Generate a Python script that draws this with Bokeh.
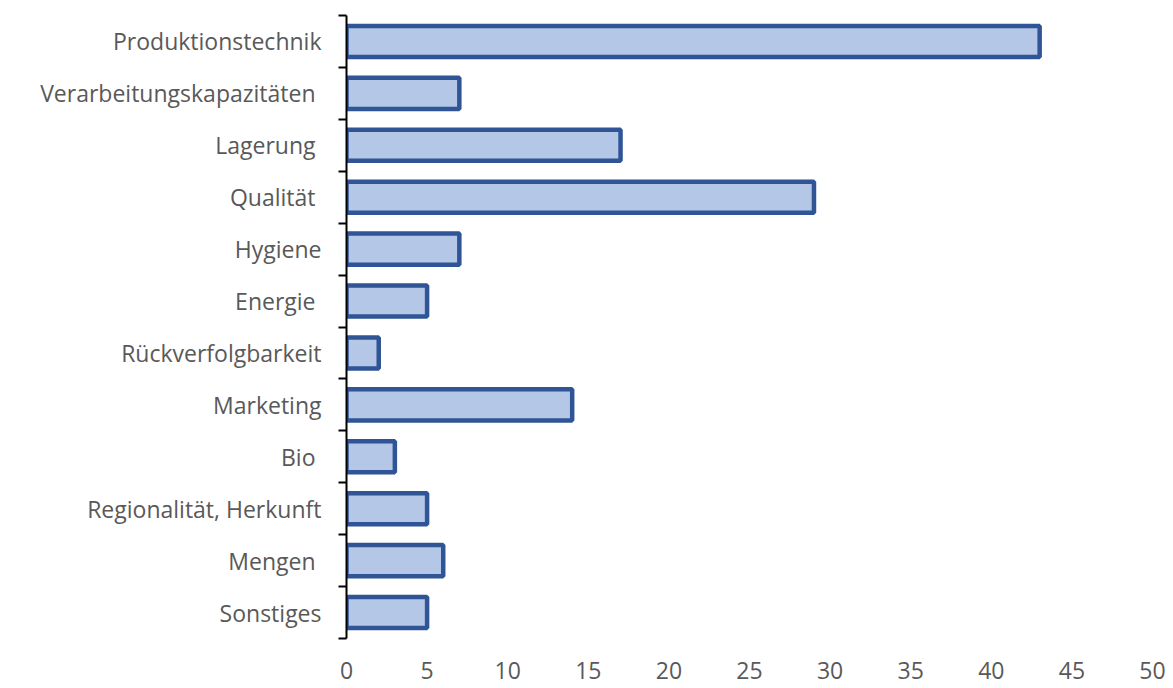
from bokeh.plotting import figure
from bokeh.models import Range1d, FixedTicker, ColumnDataSource
from bokeh.embed import file_html
from bokeh.resources import INLINE

categories = ["Produktionstechnik", "Verarbeitungskapazitäten ", "Lagerung ", "Qualität ",
              "Hygiene", "Energie ", "Rückverfolgbarkeit", "Marketing", "Bio ",
              "Regionalität, Herkunft", "Mengen ", "Sonstiges"]
values = [43, 7, 17, 29, 7, 5, 2, 14, 3, 5, 6, 5]
x_ticks = [0, 5, 10, 15, 20, 25, 30, 35, 40, 45, 50]

n = len(categories)
centers = [n - 0.5 - i for i in range(n)]
boundaries = [float(i) for i in range(n + 1)]

src = ColumnDataSource(dict(y=centers, v=values, cat=categories))

p = figure(width=1168, height=686, output_backend="svg", toolbar_location=None,
           x_range=Range1d(0, 50), y_range=Range1d(0, n),
           min_border_left=346, min_border_right=16, min_border_top=15, min_border_bottom=48)
p.outline_line_color = None
p.grid.visible = False
p.background_fill_color = "white"

p.hbar(y="y", right="v", left=0, height=0.6, source=src,
       fill_color="#B4C7E7", line_color="#2F5597", line_width=4.5)

font = "Open Sans"
xa = p.xaxis[0]
xa.ticker = FixedTicker(ticks=x_ticks, minor_ticks=[])
xa.axis_line_color = None
xa.major_tick_line_color = None
xa.minor_tick_line_color = None
xa.major_label_text_font = font
xa.major_label_text_font_size = "23px"
xa.major_label_text_color = "#595959"
xa.major_label_standoff = 17

ya = p.yaxis[0]
ya.ticker = FixedTicker(ticks=centers, minor_ticks=boundaries)
ya.major_label_overrides = {c: lab for c, lab in zip(centers, categories)}
ya.major_tick_out = 0
ya.major_tick_in = 0
ya.major_tick_line_color = None
ya.minor_tick_out = 8
ya.minor_tick_in = 0
ya.minor_tick_line_color = "black"
ya.minor_tick_line_width = 2
ya.axis_line_color = "black"
ya.axis_line_width = 2
ya.major_label_text_font = font
ya.major_label_text_font_size = "23px"
ya.major_label_text_color = "#595959"
ya.major_label_standoff = 17

open("out.html", "w").write(file_html(p, INLINE))
